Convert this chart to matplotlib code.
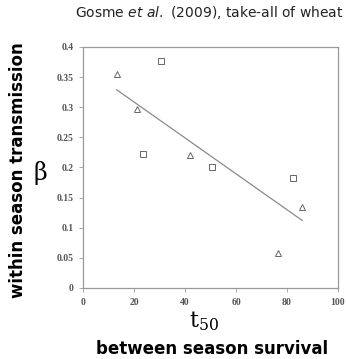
import matplotlib
matplotlib.use("Agg")
import matplotlib.pyplot as plt

# t50 (between season survival) vs beta (within season transmission)
tri_t50 = [13.2, 21.3, 42.1, 76.6, 86.0]
tri_beta = [0.355, 0.297, 0.220, 0.058, 0.134]

sq_t50 = [23.4, 30.6, 50.6, 82.2]
sq_beta = [0.222, 0.377, 0.200, 0.183]

# regression line end points
trend_t50 = [13.2, 86.0]
trend_beta = [0.329, 0.112]

x_ticks = [0, 20, 40, 60, 80, 100]
y_ticks = [0, 0.05, 0.1, 0.15, 0.2, 0.25, 0.3, 0.35, 0.4]
y_tick_labels = ["0", "0.05", "0.1", "0.15", "0.2", "0.25", "0.3", "0.35", "0.4"]

grey = "#8a8a8a"

fig = plt.figure(figsize=(3.47, 3.59), dpi=100)
ax = fig.add_axes([0.2392, 0.1978, 0.7349, 0.6713])

ax.plot(trend_t50, trend_beta, color=grey, lw=0.9)
ax.plot(tri_t50, tri_beta, linestyle="none", marker="^", ms=4.5,
        mfc="white", mec="#666666", mew=0.7)
ax.plot(sq_t50, sq_beta, linestyle="none", marker="s", ms=4,
        mfc="white", mec="#666666", mew=0.7)

ax.set_xlim(0, 100)
ax.set_ylim(0, 0.4)
ax.set_xticks(x_ticks)
ax.set_xticklabels([str(v) for v in x_ticks])
ax.set_yticks(y_ticks)
ax.set_yticklabels(y_tick_labels)
for lab in ax.get_xticklabels() + ax.get_yticklabels():
    lab.set_fontfamily("Liberation Serif")
    lab.set_fontsize(7)
    lab.set_color("#555555")
    lab.set_fontweight("bold")
ax.tick_params(direction="out", length=3, width=0.7, color="#aaaaaa", pad=4)
for s in ax.spines.values():
    s.set_color("#999999")
    s.set_linewidth(0.9)

fig.text(0.602, 0.964, "Gosme $\\it{et\\ al.}$ (2009), take-all of wheat",
         ha="center", va="center", fontsize=10, family="DejaVu Sans",
         color="#222222")
fig.text(0.052, 0.526, "within season transmission", rotation=90,
         ha="center", va="center", fontsize=12, fontweight="bold",
         family="DejaVu Sans")
fig.text(0.115, 0.518, "β", ha="center", va="center", fontsize=17,
         family="DejaVu Serif")
fig.text(0.588, 0.106, "t$_{50}$", ha="center", va="center", fontsize=16,
         family="DejaVu Serif", math_fontfamily="dejavuserif")
fig.text(0.611, 0.028, "between season survival", ha="center",
         va="center", fontsize=12, fontweight="bold", family="DejaVu Sans")

fig.savefig("out.png", dpi=100)
